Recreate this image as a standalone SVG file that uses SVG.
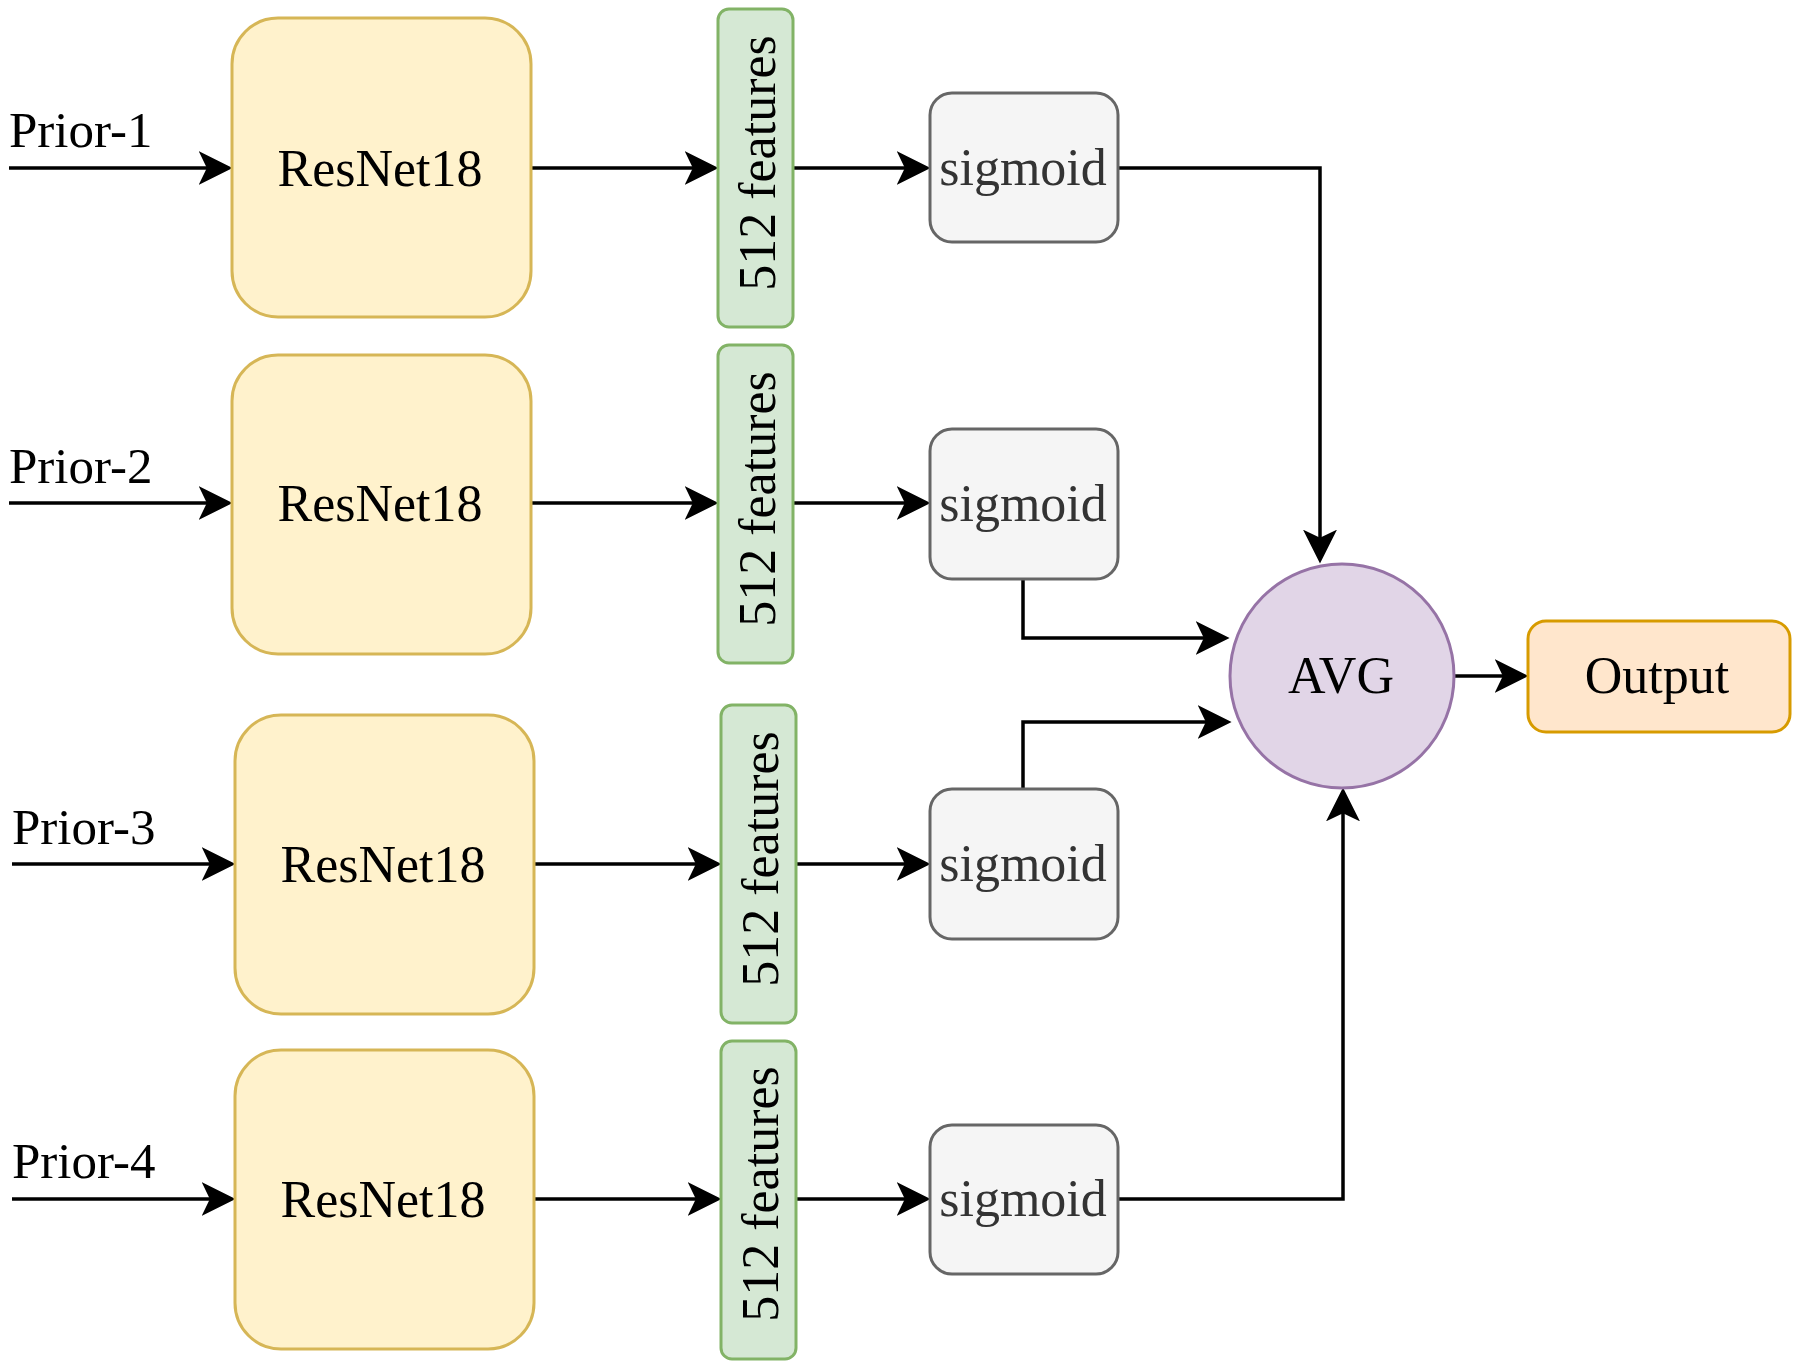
<svg xmlns="http://www.w3.org/2000/svg" width="1800" height="1367" viewBox="0 0 1800 1367">
<style>
text{font-family:"Liberation Serif","Times New Roman",serif;fill:#000}
.lbl{font-size:51px}
.t{font-size:52px;text-anchor:middle}
.res{fill:#fff2cc;stroke:#d6b656;stroke-width:3}
.feat{fill:#d5e8d4;stroke:#82b366;stroke-width:3}
.sig{fill:#f5f5f5;stroke:#666666;stroke-width:3}
.sigt{fill:#333333}
.avg{fill:#e1d5e7;stroke:#9673a6;stroke-width:3}
.out{fill:#ffe6cc;stroke:#d79b00;stroke-width:3}
.c{fill:none;stroke:#000;stroke-width:3.5;marker-end:url(#arr)}
</style>
<defs>
<marker id="arr" markerUnits="userSpaceOnUse" markerWidth="34" markerHeight="34" viewBox="0 0 33 33" refX="13" refY="16.5" orient="auto">
<path d="M0,0 L33,16.5 L0,33 L8,16.5 Z" fill="#000"/>
</marker>
</defs>
<rect width="1800" height="1367" fill="#fff"/>
<g id="connectors">
<path class="c" d="M9,168 H212"/>
<path class="c" d="M531,168 H698"/>
<path class="c" d="M793,168 H910"/>
<path class="c" d="M9,503 H212"/>
<path class="c" d="M531,503 H698"/>
<path class="c" d="M793,503 H910"/>
<path class="c" d="M12,864 H215"/>
<path class="c" d="M534,864 H701"/>
<path class="c" d="M796,864 H910"/>
<path class="c" d="M12,1199 H215"/>
<path class="c" d="M534,1199 H701"/>
<path class="c" d="M796,1199 H910"/>
<path class="c" d="M1118,168 H1320 V543"/>
<path class="c" d="M1023,579 V638 H1209"/>
<path class="c" d="M1023,789 V722 H1211"/>
<path class="c" d="M1118,1199 H1343 V808"/>
<path class="c" d="M1454,676 H1508"/>
</g>
<g id="prior1"><text class="lbl" x="9" y="147">Prior-1</text></g>
<g id="prior2"><text class="lbl" x="9" y="483">Prior-2</text></g>
<g id="prior3"><text class="lbl" x="12" y="844">Prior-3</text></g>
<g id="prior4"><text class="lbl" x="12" y="1178">Prior-4</text></g>
<g id="resnet1"><rect class="res" x="232" y="18" width="299" height="299" rx="46"/><text class="t" x="380" y="186">ResNet18</text></g>
<g id="resnet2"><rect class="res" x="232" y="355" width="299" height="299" rx="46"/><text class="t" x="380" y="521">ResNet18</text></g>
<g id="resnet3"><rect class="res" x="235" y="715" width="299" height="299" rx="46"/><text class="t" x="383" y="882">ResNet18</text></g>
<g id="resnet4"><rect class="res" x="235" y="1050" width="299" height="299" rx="46"/><text class="t" x="383" y="1217">ResNet18</text></g>
<g id="features1"><rect class="feat" x="718" y="9" width="75" height="318" rx="11"/><text class="t" transform="translate(775,163) rotate(-90)">512 features</text></g>
<g id="features2"><rect class="feat" x="718" y="345" width="75" height="318" rx="11"/><text class="t" transform="translate(775,499) rotate(-90)">512 features</text></g>
<g id="features3"><rect class="feat" x="721" y="705" width="75" height="318" rx="11"/><text class="t" transform="translate(778,859) rotate(-90)">512 features</text></g>
<g id="features4"><rect class="feat" x="721" y="1041" width="75" height="318" rx="11"/><text class="t" transform="translate(778,1194) rotate(-90)">512 features</text></g>
<g id="sigmoid1"><rect class="sig" x="930" y="93" width="188" height="149" rx="22"/><text class="t sigt" x="1023" y="185">sigmoid</text></g>
<g id="sigmoid2"><rect class="sig" x="930" y="429" width="188" height="150" rx="22"/><text class="t sigt" x="1023" y="521">sigmoid</text></g>
<g id="sigmoid3"><rect class="sig" x="930" y="789" width="188" height="150" rx="22"/><text class="t sigt" x="1023" y="881">sigmoid</text></g>
<g id="sigmoid4"><rect class="sig" x="930" y="1125" width="188" height="149" rx="22"/><text class="t sigt" x="1023" y="1216">sigmoid</text></g>
<g id="avg"><circle class="avg" cx="1342" cy="676" r="112"/><text class="t" x="1341" y="693">AVG</text></g>
<g id="output"><rect class="out" x="1528" y="621" width="262" height="111" rx="18"/><text class="t" x="1657" y="693">Output</text></g>
</svg>
